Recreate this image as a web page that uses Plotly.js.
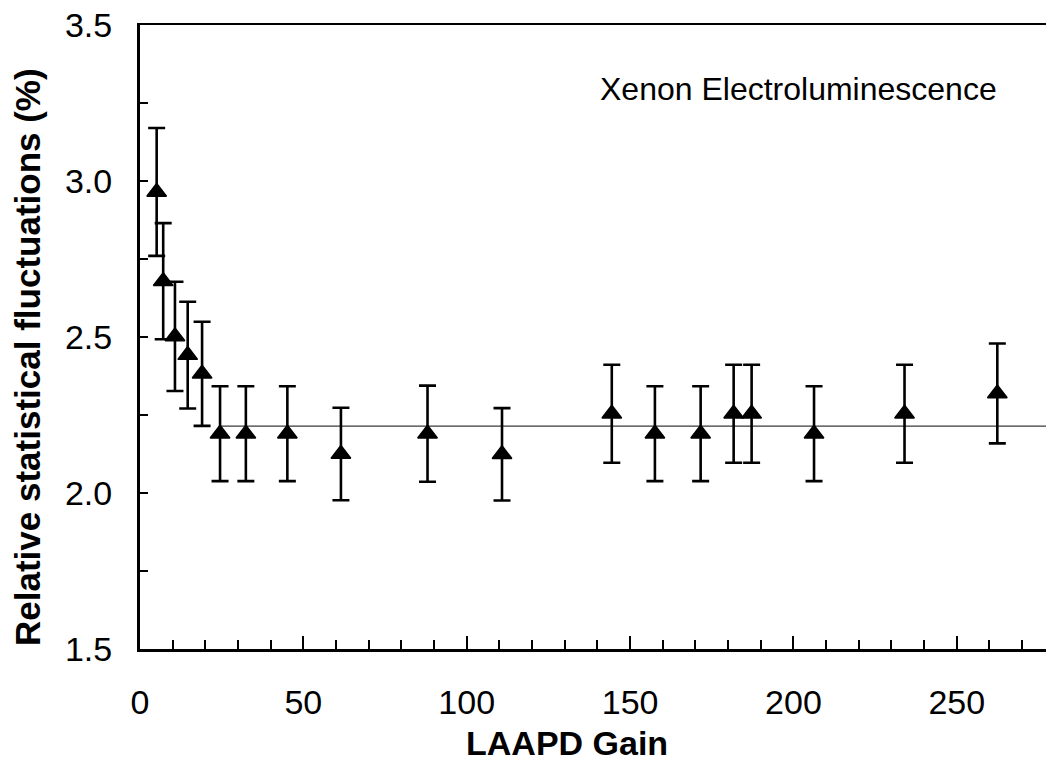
<!DOCTYPE html>
<html>
<head>
<meta charset="utf-8">
<script src="https://cdn.plot.ly/plotly-3.0.1.min.js"></script>
<style>
  html, body { margin: 0; padding: 0; background: #fff; overflow: hidden; }
  #chart { width: 1046px; height: 766px; }
</style>
</head>
<body>
<div id="chart"></div>
<script>
// LAAPD gain values (x)
const gain = [5.1, 7.1, 10.7, 14.6, 19.0, 24.5, 32.4, 45.1, 61.5, 88.0, 110.8, 144.4, 157.6, 171.6, 181.7, 187.2, 206.3, 234.0, 262.4];
// Relative statistical fluctuations (%)
const fluct = [2.965, 2.679, 2.502, 2.442, 2.382, 2.19, 2.19, 2.19, 2.125, 2.19, 2.124, 2.254, 2.19, 2.19, 2.254, 2.254, 2.19, 2.254, 2.319];
// Error bar half-lengths
const fluctErr = [0.205, 0.186, 0.175, 0.171, 0.167, 0.152, 0.152, 0.152, 0.148, 0.154, 0.148, 0.157, 0.152, 0.152, 0.157, 0.157, 0.152, 0.157, 0.160];
// Horizontal average line
const avgLineX = [24.5, 300];
const avgLineY = [2.2145, 2.2145];
// Axis tick values / labels
const yTickVals = [1.5, 2.0, 2.5, 3.0, 3.5];
const yTickText = ["1.5", "2.0", "2.5", "3.0", "3.5"];
const xTickVals = [0, 50, 100, 150, 200, 250];
const xTickText = ["0", "50", "100", "150", "200", "250"];
// Texts
const xTitle = "LAAPD Gain";
const yTitle = "Relative statistical fluctuations (%)";
const labelText = "Xenon Electroluminescence";

const FONT = "Liberation Sans, Arial, Helvetica, sans-serif";

// plot-area geometry (pixels)
const PL = 140, PT = 25, PW = 906, PH = 624;
const px = v => (v - PL) / PW;          // page x -> paper x
const py = v => (PT + PH - v) / PH;     // page y -> paper y

const traces = [
  {
    x: avgLineX, y: avgLineY,
    type: "scatter", mode: "lines",
    line: { color: "#3a3a3a", width: 1.2 },
    hoverinfo: "skip", showlegend: false
  },
  {
    x: gain, y: fluct,
    type: "scatter", mode: "markers",
    marker: { symbol: "triangle-up", size: 17, color: "#000000", line: { color: "#000000", width: 1.5 } },
    error_y: { type: "data", array: fluctErr, symmetric: true, visible: true, color: "#000000", thickness: 2.6, width: 8.5 },
    showlegend: false, cliponaxis: false
  }
];

const layout = {
  width: 1046, height: 766,
  margin: { l: PL, r: 1046 - PL - PW, t: PT, b: 766 - PT - PH, pad: 0 },
  paper_bgcolor: "#ffffff", plot_bgcolor: "#ffffff",
  showlegend: false,
  font: { family: FONT, color: "#000000", size: 34 },
  xaxis: {
    range: [0, 277.3],
    showgrid: false, zeroline: false,
    showline: true, linecolor: "#000000", linewidth: 2.5, mirror: true,
    tickmode: "array", tickvals: xTickVals, ticktext: xTickText,
    ticks: "inside", ticklen: 13, tickwidth: 2, tickcolor: "#000000",
    minor: { dtick: 10, ticks: "inside", ticklen: 9, tickwidth: 2, tickcolor: "#000000", showgrid: false },
    tickfont: { family: FONT, size: 34, color: "#000000" },
    ticklabelstandoff: 22,
    fixedrange: true
  },
  yaxis: {
    range: [1.5, 3.5],
    showgrid: false, zeroline: false,
    showline: true, linecolor: "#000000", linewidth: 3,
    tickmode: "array", tickvals: yTickVals, ticktext: yTickText,
    ticks: "inside", ticklen: 8, tickwidth: 2, tickcolor: "#000000",
    minor: { dtick: 0.25, ticks: "inside", ticklen: 8, tickwidth: 2, tickcolor: "#000000", showgrid: false },
    tickfont: { family: FONT, size: 34, color: "#000000" },
    ticklabelstandoff: 18,
    fixedrange: true
  },
  annotations: [
    {
      text: labelText,
      xref: "paper", yref: "paper",
      x: px(798), y: py(89),
      xanchor: "center", yanchor: "middle",
      showarrow: false,
      font: { family: FONT, size: 32, color: "#000000" }
    },
    {
      text: "<b>" + xTitle + "</b>",
      xref: "paper", yref: "paper",
      x: px(567), y: py(743),
      xanchor: "center", yanchor: "middle",
      showarrow: false,
      font: { family: FONT, size: 34, color: "#000000" }
    },
    {
      text: "<b>" + yTitle + "</b>",
      xref: "paper", yref: "paper",
      x: px(27), y: py(357),
      xanchor: "center", yanchor: "middle",
      textangle: -90,
      showarrow: false,
      font: { family: FONT, size: 35, color: "#000000" }
    }
  ]
};

Plotly.newPlot("chart", traces, layout, { displayModeBar: false, staticPlot: true });
</script>
</body>
</html>
